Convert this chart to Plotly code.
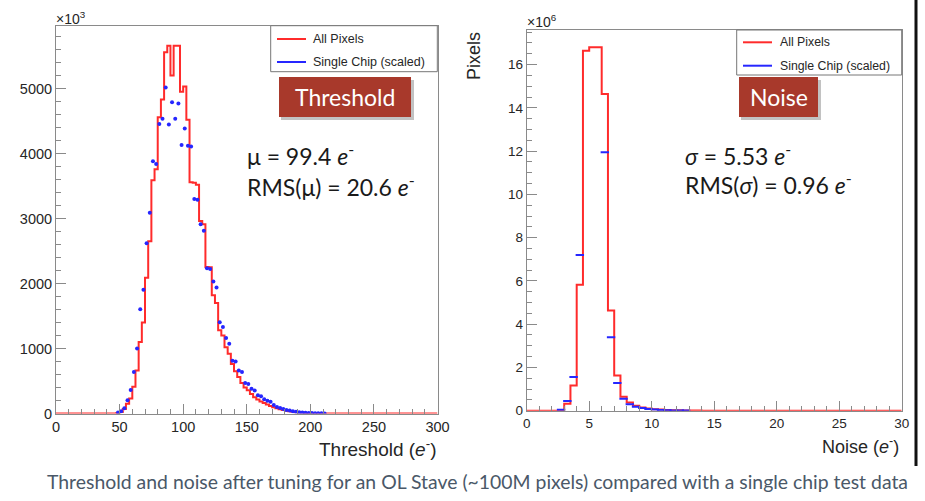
import numpy as np
import plotly.graph_objects as go

W, H = 925, 501

# ---------------- data ----------------
thr_bin_width = 2.5
thr_all = ([0] * 19 +
           [8, 25, 70, 150, 230, 410, 660, 1100, 1400, 2090, 2650, 3590, 3760, 4560, 4830,
            5560, 5660, 5200, 5660, 5660, 4950, 5030, 4520, 3560, 3550, 3520, 2960, 2910,
            2256, 2250, 1820, 1700, 1280, 1200, 1020, 920, 760, 650, 560, 470, 400, 357,
            300, 250, 215, 185, 160, 140, 115, 95, 80, 65, 52, 42, 33, 26, 20, 15, 11, 8,
            6, 4, 3, 2, 1] +
           [0] * 36)
thr_single = ([None] * 19 +
              [15, 35, 80, 205, 360, 640, 1000, 1605, 1905, 2620, 3090, 3880, 3840, 4455, 4535,
               5015, 4445, 4790, 4535, 4770, 4130, 4385, 4120, 4110, 3300, 3290, 2910, 2810,
               2235, 2225, 2030, 1940, 1405, 1330, 1160, 1075, 810, 800, 660, 640, 470, 455,
               380, 355, 280, 265, 220, 195, 180, 130, 100, 85, 70, 55, 45, 35, 27, 20, 15,
               11, 8, 6, 4, 3, 2, 1] +
              [None] * 35)

noise_bin_width = 0.5
noise_all = ([0] * 5 +
             [0.02, 0.32, 1.17, 5.82, 16.64, 16.8, 16.8, 14.64, 4.63, 1.63, 0.65, 0.38, 0.23,
              0.15, 0.10, 0.07, 0.05, 0.035, 0.025, 0.018, 0.012, 0.008, 0.005, 0.003, 0.002] +
             [0] * 30)
noise_single = ([None] * 5 +
                [0.04, 0.45, 1.56, 7.2, 18.2, 18.6, 18.0, 11.95, 3.4, 1.28, 0.55, 0.3, 0.18,
                 0.12, 0.08, 0.05, 0.035, 0.025, 0.015, 0.01, 0.006] +
                [None] * 34)

thr_xticks = [0, 50, 100, 150, 200, 250, 300]
thr_yticks = [0, 1000, 2000, 3000, 4000, 5000]
noise_xticks = [0, 5, 10, 15, 20, 25, 30]
noise_yticks = [0, 2, 4, 6, 8, 10, 12, 14, 16]

caption = "Threshold and noise after tuning for an OL Stave (~100M pixels) compared with a single chip test data"

# ---------------- helpers ----------------
def fx(p):
    return p / W

def fy(p):
    return 1 - p / H

RED = "#ff2b2b"
BLUE = "#2626ff"
AX = "#8a8a8a"
TXT = "#262626"
ROOT_FONT = "Liberation Sans, Arial, sans-serif"
SLIDE_FONT = "Lato, Open Sans, sans-serif"

thr_edges = np.arange(len(thr_all) + 1) * thr_bin_width
thr_centers = (np.arange(len(thr_all)) + 0.5) * thr_bin_width
noise_edges = np.arange(len(noise_all) + 1) * noise_bin_width
noise_centers = (np.arange(len(noise_all)) + 0.5) * noise_bin_width

fig = go.Figure()

fig.add_trace(go.Scatter(x=thr_edges, y=list(thr_all) + [thr_all[-1]], mode="lines",
                         line=dict(color=RED, width=2, shape="hv"), xaxis="x", yaxis="y",
                         name="All Pixels", showlegend=False))
fig.add_trace(go.Scatter(x=thr_centers, y=thr_single, mode="markers",
                         marker=dict(symbol="circle", size=4, color=BLUE, line=dict(width=0)),
                         xaxis="x", yaxis="y", name="Single Chip (scaled)", showlegend=False))
fig.add_trace(go.Scatter(x=noise_edges, y=list(noise_all) + [noise_all[-1]], mode="lines",
                         line=dict(color=RED, width=2, shape="hv"), xaxis="x2", yaxis="y2",
                         name="All Pixels", showlegend=False))
fig.add_trace(go.Scatter(x=noise_centers, y=noise_single, mode="markers",
                         marker=dict(symbol="line-ew", size=6, line=dict(color=BLUE, width=2)),
                         xaxis="x2", yaxis="y2", name="Single Chip (scaled)", showlegend=False))

axis_common = dict(showline=True, mirror=True, linecolor=AX, linewidth=1, ticks="inside",
                   tickcolor=AX, tickwidth=1, showgrid=False, zeroline=False, automargin=False)

fig.update_layout(
    width=W, height=H, margin=dict(l=0, r=0, t=0, b=0),
    paper_bgcolor="white", plot_bgcolor="white", showlegend=False,
    xaxis=dict(domain=[fx(56), fx(437.5)], range=[0, 300], tickvals=thr_xticks, ticklen=10,
               minor=dict(ticks="inside", dtick=10, ticklen=5, tickcolor=AX),
               tickfont=dict(family=ROOT_FONT, size=14.5, color=TXT), anchor="y", **axis_common),
    yaxis=dict(domain=[fy(413.5), fy(25.5)], range=[0, 5970], tickvals=thr_yticks, ticklen=10,
               minor=dict(ticks="inside", dtick=200, ticklen=5, tickcolor=AX),
               tickfont=dict(family=ROOT_FONT, size=14.5, color=TXT), anchor="x", **axis_common),
    xaxis2=dict(domain=[fx(526.7), fx(901.7)], range=[0, 30], tickvals=noise_xticks, ticklen=10,
                minor=dict(ticks="inside", dtick=1, ticklen=5, tickcolor=AX),
                tickfont=dict(family=ROOT_FONT, size=13.5, color=TXT), anchor="y2", **axis_common),
    yaxis2=dict(domain=[fy(410.7), fy(30)], range=[0, 17.6], tickvals=noise_yticks, ticklen=10,
                minor=dict(ticks="inside", dtick=0.5, ticklen=5, tickcolor=AX),
                tickfont=dict(family=ROOT_FONT, size=13.5, color=TXT), anchor="x2", **axis_common),
)

shapes = []
annotations = []

def ann(text, x, y, size, family=ROOT_FONT, color=TXT, xanchor="left", yanchor="middle", **kw):
    annotations.append(dict(text=text, x=fx(x), y=fy(y), xref="paper", yref="paper",
                            xanchor=xanchor, yanchor=yanchor, showarrow=False,
                            font=dict(family=family, size=size, color=color), **kw))

def rect(x0, y0, x1, y1, fill=None, line=None, lw=1, opacity=1):
    shapes.append(dict(type="rect", xref="paper", yref="paper", x0=fx(x0), x1=fx(x1),
                       y0=fy(y1), y1=fy(y0), fillcolor=fill or "rgba(0,0,0,0)",
                       line=dict(color=line or "rgba(0,0,0,0)", width=lw if line else 0),
                       opacity=opacity, layer="above"))

def seg(x0, y0, x1, y1, color, width):
    shapes.append(dict(type="line", xref="paper", yref="paper", x0=fx(x0), x1=fx(x1),
                       y0=fy(y0), y1=fy(y1), line=dict(color=color, width=width), layer="above"))

# exponent labels
ann("×10<sup>3</sup>", 54, 18, 14)
ann("×10<sup>6</sup>", 525, 21, 14)

# axis titles
ann("Threshold (<i>e</i><sup>-</sup>)", 438, 448, 19, xanchor="right")
ann("Noise (<i>e</i><sup>-</sup>)", 901, 445, 18, xanchor="right")
ann("Pixels", 474, 30, 18, xanchor="center", yanchor="top", textangle=-90)

# legends
rect(270.7, 25.7, 437.3, 71.7, fill="white", line="#777777")
seg(277, 39, 306, 39, RED, 2)
seg(277, 62, 306, 62, BLUE, 2)
ann("All Pixels", 311, 39, 12.5)
ann("Single Chip (scaled)", 311, 62.3, 12.5)

rect(736.7, 30, 901.7, 75, fill="white", line="#777777")
seg(743, 42.3, 772, 42.3, RED, 2)
seg(743, 65.7, 772, 65.7, BLUE, 2)
ann("All Pixels", 778, 42.3, 12.3)
ann("Single Chip (scaled)", 778, 65.7, 12.3)

# slide labels
rect(281, 80, 414, 120, fill="#777777", opacity=0.45)
rect(279, 77, 411, 117, fill="#a8392b")
ann("Threshold", 345, 97, 23, family=SLIDE_FONT, color="white", xanchor="center")
rect(741, 80, 821, 120, fill="#777777", opacity=0.45)
rect(739, 77, 818, 117, fill="#a8392b")
ann("Noise", 778.5, 97, 23, family=SLIDE_FONT, color="white", xanchor="center")

ann("μ = 99.4 <i>e</i><sup>-</sup>", 245, 155, 23, family=SLIDE_FONT, color="#1a1a1a")
ann("RMS(μ) = 20.6 <i>e</i><sup>-</sup>", 245, 185, 23, family=SLIDE_FONT, color="#1a1a1a")
ann("<i>σ</i> = 5.53 <i>e</i><sup>-</sup>", 683, 155, 23, family=SLIDE_FONT, color="#1a1a1a")
ann("RMS(<i>σ</i>) = 0.96 <i>e</i><sup>-</sup>", 683, 184, 23, family=SLIDE_FONT, color="#1a1a1a")

# caption
ann(caption, 477.5, 481, 19.4, family=SLIDE_FONT, color="#4a5868", xanchor="center")

# right slide border
seg(916, 0, 916, 466, "#111111", 3)

fig.update_layout(shapes=shapes, annotations=annotations)
fig.write_html("out.html", config={"displayModeBar": False},
               post_script="document.body.style.margin='0';document.body.style.padding='0';")
